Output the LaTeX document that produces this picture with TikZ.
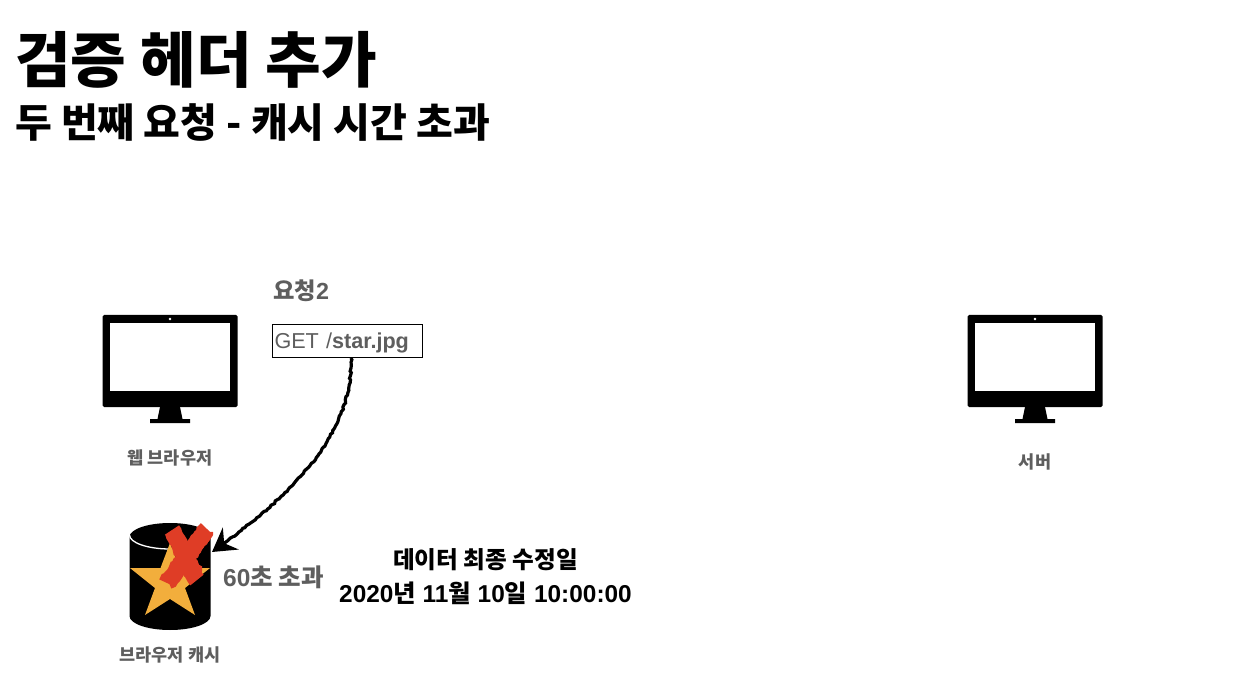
\documentclass[tikz,border=0pt]{standalone}
\usepackage{fontspec}
\setmainfont{Liberation Sans}
\newfontfamily\krfont{Noto Sans CJK KR}
\usetikzlibrary{arrows.meta,decorations.pathmorphing}
\definecolor{txtgray}{HTML}{5E5E5E}
\definecolor{starorange}{HTML}{F2AE3C}
\definecolor{crossred}{HTML}{DF3D26}
\newcommand{\kr}[1]{{\krfont #1}}

\begin{document}
\begin{tikzpicture}[
  x=1pt, y=-1pt,
  lab/.style={text=txtgray, font=\bfseries\fontsize{17.5}{20}\selectfont, inner sep=0pt},
  note/.style={text=black, font=\bfseries\fontsize{23.6}{28}\selectfont, inner sep=0pt},
  crossline/.style={draw=crossred, line width=17pt},
  rough/.style={decorate, decoration={random steps, segment length=2.5pt, amplitude=.8pt, post length=20pt}},
  arr/.style={line width=3.2pt, rough},
  monitor/.pic={
    \fill[rounded corners=1.5pt] (-67.5,-46) rectangle (67.5,46);
    \fill[white] (-60,-38) rectangle (60,30);
    \fill[white] (0,-42) circle (1.3);
    \fill (-10,46) -- (10,46) -- (12.5,58) -- (20,58) -- (20,62) -- (-20,62) -- (-20,58) -- (-12.5,58) -- cycle;
  }]
\useasboundingbox (0,0) rectangle (1258,692);
% ---- title ----
\node[anchor=base west, inner sep=0pt, font=\bfseries\fontsize{60.5}{66}\selectfont] (title) at (15,83) {\kr{검증 헤더 추가}};
\node[anchor=base west, inner sep=0pt, font=\bfseries\fontsize{40}{46}\selectfont] (subtitle) at (15,138) {\kr{두 번째 요청 - 캐시 시간 초과}};
% ---- browser and server ----
\pic (browser) at (170,361) {monitor};
\pic (server) at (1035,361) {monitor};
\node[lab] (browserlab) at (170,458) {\kr{웹 브라우저}};
\node[lab] (serverlab) at (1035,462) {\kr{서버}};
% ---- request ----
\node[text=txtgray, font=\bfseries\fontsize{23.3}{26}\selectfont, anchor=base west, inner sep=0pt] (reqlab) at (273,299.5) {\kr{요청}2};
\node[draw, line width=1pt, text width=146pt, inner xsep=2pt, inner ysep=3pt, text height=21pt, text depth=6pt, text=txtgray, font=\fontsize{21.6}{24}\selectfont] (req) at (347.5,341) {GET /\textbf{star.jpg}};
% ---- cache ----
\fill (129.5,537) arc[start angle=180, end angle=360, x radius=40.5, y radius=14] -- (210.5,616)
  arc[start angle=0, end angle=180, x radius=40.5, y radius=14] -- cycle;
\draw[white, line width=1.3pt] (129.5,535) arc[start angle=180, end angle=0, x radius=40.5, y radius=14];
\fill[starorange] (170,543) -- (179.5,568) -- (210,568) -- (185,588) -- (195,615) -- (170,599)
  -- (145,615) -- (155,588) -- (130,568) -- (160.5,568) -- cycle;
\draw[crossline, rough, decoration={post length=0pt}] (172,530) -- (197,580);
\draw[crossline, rough, decoration={post length=0pt}] (207,529) -- (167,583);
\coordinate (cache) at (212,552);
\node[lab] (cachelab) at (170,655) {\kr{브라우저 캐시}};
\node[text=txtgray, font=\bfseries\fontsize{24.5}{28}\selectfont, anchor=base west, inner sep=0pt] (expired) at (223,586) {60\kr{초 초과}};
\draw[arr, -{Stealth[length=23pt, width=27pt, inset=8pt]}] (req.south -| 351,358) .. controls (353,430) and (300,490) .. (cache);
% ---- last modified ----
\node[note] (modlab) at (485.5,560) {\kr{데이터 최종 수정일}};
\node[note, font=\bfseries\fontsize{24.4}{28}\selectfont] (moddate) at (485.5,593) {2020\kr{년} 11\kr{월} 10\kr{일} 10:00:00};
\end{tikzpicture}
\end{document}
